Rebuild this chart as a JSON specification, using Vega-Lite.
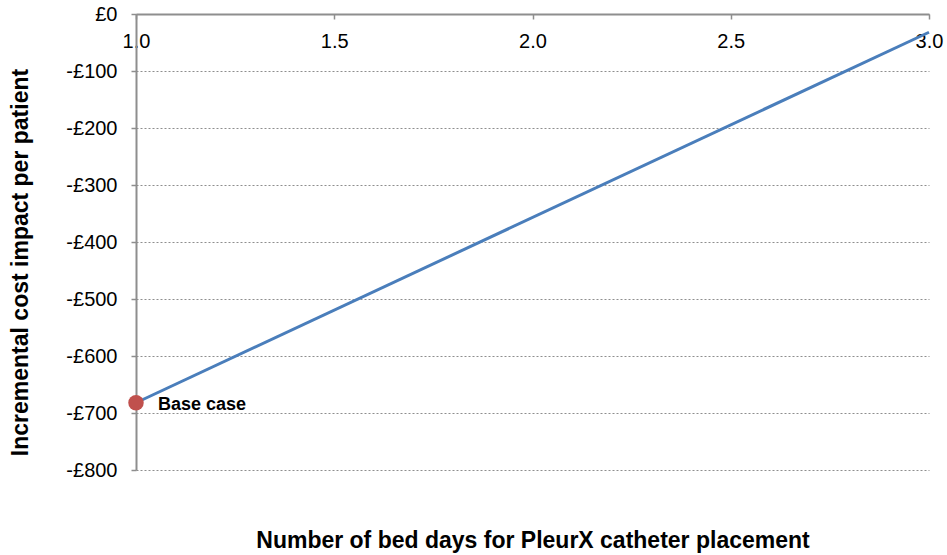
{
  "$schema": "https://vega.github.io/schema/vega-lite/v6.json",
  "width": 793,
  "height": 456,
  "autosize": "none",
  "padding": {"left": 136, "top": 14, "right": 18, "bottom": 85},
  "background": "white",
  "config": {
    "view": {"stroke": null},
    "font": "Liberation Sans"
  },
  "datasets": {
    "line": [
      {"days": 1.0, "cost": -682},
      {"days": 3.0, "cost": -32}
    ],
    "base": [
      {"days": 1.0, "cost": -682, "label": "Base case"}
    ]
  },
  "layer": [
    {
      "data": {"name": "line"},
      "mark": {"type": "line", "color": "#4A7EBB", "strokeWidth": 3},
      "encoding": {
        "x": {
          "field": "days", "type": "quantitative",
          "scale": {"domain": [1, 3], "nice": false, "zero": false},
          "axis": {
            "orient": "bottom",
            "offset": -456,
            "values": [1, 1.5, 2, 2.5, 3],
            "format": ".1f",
            "grid": false,
            "domainColor": "#8E8E8E",
            "domainWidth": 2,
            "tickColor": "#8E8E8E",
            "tickWidth": 1.5,
            "tickSize": 5,
            "labelFontSize": 20,
            "labelColor": "#000000",
            "labelPadding": 12,
            "labelFont": "Liberation Sans",
            "labelOverlap": false,
            "labelFlush": false,
            "title": "Number of bed days for PleurX catheter  placement",
            "titleFont": "Liberation Sans",
            "titleFontSize": 23,
            "titleFontWeight": "bold",
            "titleColor": "#000000",
            "titleBaseline": "middle",
            "titleY": 526
          }
        },
        "y": {
          "field": "cost", "type": "quantitative",
          "scale": {"domain": [-800, 0], "nice": false},
          "axis": {
            "values": [0, -100, -200, -300, -400, -500, -600, -700, -800],
            "labelExpr": "datum.value == 0 ? '£0' : '-£' + abs(datum.value)",
            "grid": true,
            "gridDash": [2, 2],
            "gridColor": "#8E8E8E",
            "gridWidth": 1,
            "domainColor": "#8E8E8E",
            "domainWidth": 2,
            "tickColor": "#8E8E8E",
            "tickWidth": 1.5,
            "tickSize": 5,
            "labelFontSize": 20,
            "labelColor": "#000000",
            "labelPadding": 14,
            "labelFont": "Liberation Sans",
            "title": "Incremental cost impact per patient",
            "titleFont": "Liberation Sans",
            "titleFontSize": 23,
            "titleFontWeight": "bold",
            "titleColor": "#000000",
            "titleX": -116,
            "titleY": 248,
            "titleBaseline": "middle"
          }
        }
      }
    },
    {
      "data": {"name": "base"},
      "mark": {"type": "point", "filled": true, "color": "#C0504D", "size": 240, "opacity": 1},
      "encoding": {
        "x": {"field": "days", "type": "quantitative"},
        "y": {"field": "cost", "type": "quantitative"}
      }
    },
    {
      "data": {"name": "base"},
      "mark": {"type": "text", "align": "left", "baseline": "middle", "dx": 22, "dy": 2, "fontSize": 18, "fontWeight": "bold", "font": "Liberation Sans", "color": "#000000"},
      "encoding": {
        "x": {"field": "days", "type": "quantitative"},
        "y": {"field": "cost", "type": "quantitative"},
        "text": {"field": "label"}
      }
    }
  ]
}
